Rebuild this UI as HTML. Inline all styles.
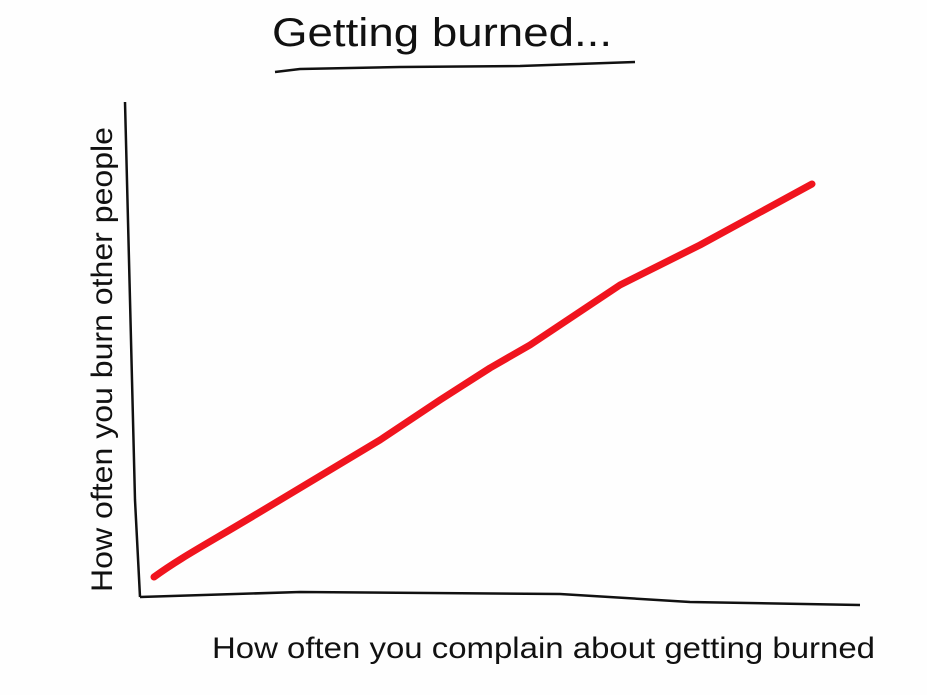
<!DOCTYPE html>
<html><head><style>
html,body{margin:0;padding:0;background:#fff;}
svg{display:block;}
text{font-family:"Liberation Sans",sans-serif;fill:#111;}
</style></head><body>
<svg width="927" height="695" viewBox="0 0 927 695" xmlns="http://www.w3.org/2000/svg">
<rect width="927" height="695" fill="#fefefe"/>
<text x="272" y="46" font-size="40" textLength="340" lengthAdjust="spacingAndGlyphs" font-weight="300">Getting burned...</text>
<path d="M275,72 L300,69 L400,67 L520,66 L635,62" stroke="#111" stroke-width="2.5" fill="none"/>
<path d="M125,102 L130,300 L135,500 L140,597" stroke="#111" stroke-width="2.5" fill="none"/>
<path d="M140,597 L300,592 L560,594 L690,602 L860,605" stroke="#111" stroke-width="2.5" fill="none"/>
<path d="M154,577 C180,558 205,545 260,512 L380,440 L440,400 L490,368 L530,345 L620,285 L700,245 L812,184" stroke="#f0141e" stroke-width="7" fill="none" stroke-linecap="round" stroke-linejoin="round"/>
<text transform="translate(112,592) rotate(-90)" font-size="30" textLength="465" lengthAdjust="spacingAndGlyphs">How often you burn other people</text>
<text x="212" y="658" font-size="30" textLength="663" lengthAdjust="spacingAndGlyphs">How often you complain about getting burned</text>
</svg>
</body></html>
